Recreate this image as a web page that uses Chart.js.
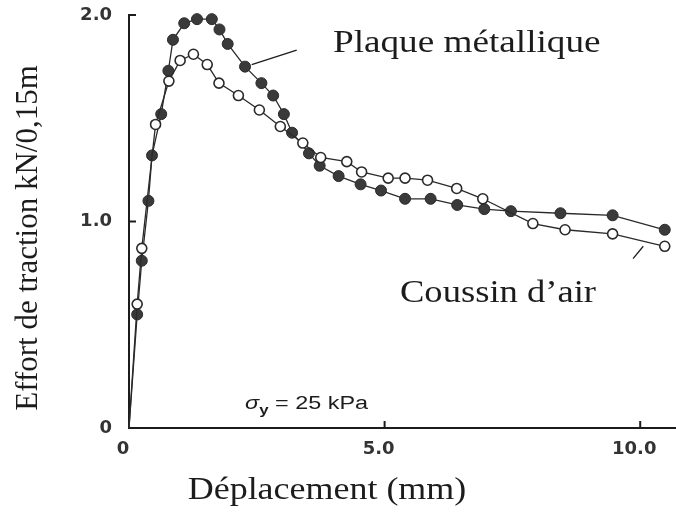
<!DOCTYPE html>
<html lang="fr">
<head>
  <meta charset="UTF-8">
  <title>Effort de traction</title>
  <script src="https://cdn.jsdelivr.net/npm/chart.js"></script>
  <style>
    html, body { margin: 0; padding: 0; background: #fff; }
    #wrap { width: 676px; height: 523px; }
  </style>
</head>
<body>
  <div id="wrap"><canvas id="myChart" width="676" height="523"></canvas></div>
  <script>
    // Plaque métallique (points pleins)
    const plaqueX = [0, 0.16, 0.25, 0.38, 0.45, 0.63, 0.77, 0.86, 1.08, 1.33, 1.62, 1.77, 1.93, 2.27, 2.59, 2.82, 3.03, 3.19, 3.52, 3.73, 4.10, 4.53, 4.93, 5.40, 5.90, 6.42, 6.95, 7.47, 8.44, 9.46, 10.48];
    const plaqueY = [0, 0.55, 0.81, 1.10, 1.32, 1.52, 1.73, 1.88, 1.96, 1.98, 1.98, 1.93, 1.86, 1.75, 1.67, 1.61, 1.52, 1.43, 1.33, 1.27, 1.22, 1.18, 1.15, 1.11, 1.11, 1.08, 1.06, 1.05, 1.04, 1.03, 0.96];

    // Coussin d'air (points vides)
    const coussinX = [0, 0.16, 0.25, 0.52, 0.78, 1.00, 1.26, 1.53, 1.76, 2.14, 2.55, 2.96, 3.40, 3.75, 4.26, 4.55, 5.07, 5.40, 5.84, 6.41, 6.92, 7.90, 8.53, 9.46, 10.48];
    const coussinY = [0, 0.60, 0.87, 1.47, 1.68, 1.78, 1.81, 1.76, 1.67, 1.61, 1.54, 1.46, 1.38, 1.31, 1.29, 1.24, 1.21, 1.21, 1.20, 1.16, 1.11, 0.99, 0.96, 0.94, 0.88];

    const xTicks = [0, 5, 10];
    const xTickLabels = ['0', '5.0', '10.0'];
    const yTicks = [0, 1, 2];
    const yTickLabels = ['0', '1.0', '2.0'];

    const toPoints = (xs, ys) => xs.map((x, i) => ({x: x, y: ys[i]}));

    const ink = '#1c1c1c';

    function stretchText(ctx, text, x, y, font, sx, align) {
      ctx.save();
      ctx.font = font;
      ctx.textBaseline = 'alphabetic';
      const w = ctx.measureText(text).width * sx;
      let left = x;
      if (align === 'center') left = x - w / 2;
      ctx.translate(left, y);
      ctx.scale(sx, 1);
      ctx.textAlign = 'left';
      ctx.fillText(text, 0, 0);
      ctx.restore();
      return w;
    }

    const decor = {
      id: 'decor',
      afterDraw(chart) {
        const ctx = chart.ctx;
        const xs = chart.scales.x;
        const ys = chart.scales.y;
        const area = chart.chartArea;
        ctx.save();
        ctx.strokeStyle = ink;
        ctx.fillStyle = ink;

        // petites graduations vers l'interieur
        ctx.lineWidth = 2;
        ctx.beginPath();
        xTicks.forEach(v => {
          if (v === 0) return;
          const px = xs.getPixelForValue(v);
          ctx.moveTo(px, area.bottom);
          ctx.lineTo(px, area.bottom - 7);
        });
        yTicks.forEach(v => {
          if (v === 0) return;
          const py = ys.getPixelForValue(v);
          ctx.moveTo(area.left, py);
          ctx.lineTo(area.left + 7, py);
        });
        ctx.stroke();

        // traits de rappel
        ctx.lineWidth = 1.3;
        ctx.beginPath();
        ctx.moveTo(xs.getPixelForValue(2.40), ys.getPixelForValue(1.76));
        ctx.lineTo(xs.getPixelForValue(3.28), ys.getPixelForValue(1.83));
        ctx.moveTo(xs.getPixelForValue(10.06), ys.getPixelForValue(0.88));
        ctx.lineTo(xs.getPixelForValue(9.86), ys.getPixelForValue(0.82));
        ctx.stroke();

        // etiquettes des courbes
        const serif = '31px "Liberation Serif", "Times New Roman", serif';
        stretchText(ctx, 'Plaque métallique', xs.getPixelForValue(3.99), ys.getPixelForValue(1.82), serif, 1.2, 'left');
        stretchText(ctx, 'Coussin d\u2019air', xs.getPixelForValue(5.30), ys.getPixelForValue(0.61), serif, 1.18, 'left');

        // sigma_y = 25 kPa
        const sans = '"Liberation Sans", Arial, sans-serif';
        let sx = xs.getPixelForValue(2.27);
        const sy = ys.getPixelForValue(0.09);
        sx += stretchText(ctx, '\u03c3', sx, sy, 'italic 18px ' + sans, 1.3, 'left');
        sx += stretchText(ctx, 'y', sx, sy + 5, 'bold 13px ' + sans, 1.3, 'left');
        stretchText(ctx, ' = 25 kPa', sx, sy, '18px ' + sans, 1.3, 'left');

        // titres des axes
        stretchText(ctx, 'Déplacement (mm)', 327, 499, serif, 1.16, 'center');
        ctx.save();
        ctx.translate(37, 238);
        ctx.rotate(-Math.PI / 2);
        ctx.font = serif;
        ctx.textAlign = 'center';
        ctx.textBaseline = 'alphabetic';
        ctx.fillText('Effort de traction kN/0,15m', 0, 0);
        ctx.restore();

        ctx.restore();
      }
    };

    const ctx = document.getElementById('myChart');

    new Chart(ctx, {
      type: 'line',
      data: {
        datasets: [
          {
            label: 'Coussin d\u2019air',
            data: toPoints(coussinX, coussinY),
            borderColor: '#2a2a2a',
            borderWidth: 1.3,
            backgroundColor: '#ffffff',
            pointBorderColor: '#2a2a2a',
            pointBorderWidth: 1.6,
            pointRadius: c => c.dataIndex === 0 ? 0 : 5,
            tension: 0,
            order: 1
          },
          {
            label: 'Plaque métallique',
            data: toPoints(plaqueX, plaqueY),
            borderColor: '#2a2a2a',
            borderWidth: 1.3,
            backgroundColor: '#3a3a3a',
            pointBorderColor: '#2a2a2a',
            pointBorderWidth: 1,
            pointRadius: c => c.dataIndex === 0 ? 0 : 5.5,
            tension: 0,
            order: 2
          }
        ]
      },
      options: {
        responsive: false,
        animation: false,
        clip: false,
        layout: { autoPadding: false, padding: { top: 15, right: 0, left: 0, bottom: 0 } },
        plugins: {
          legend: { display: false },
          tooltip: { enabled: false }
        },
        scales: {
          x: {
            type: 'linear',
            min: 0,
            max: 10.7,
            afterBuildTicks: s => { s.ticks = xTicks.map(v => ({value: v})); },
            afterFit: s => { s.height = 95; s.paddingLeft = 0; s.paddingRight = 0; },
            grid: { display: false, drawTicks: false },
            border: { display: true, color: ink, width: 2 },
            ticks: {
              padding: 11,
              labelOffset: -6,
              color: '#333',
              font: { family: '"DejaVu Sans", sans-serif', size: 18, weight: 'bold' },
              callback: v => xTickLabels[xTicks.indexOf(v)]
            }
          },
          y: {
            type: 'linear',
            min: 0,
            max: 2,
            afterBuildTicks: s => { s.ticks = yTicks.map(v => ({value: v})); },
            afterFit: s => { s.width = 129; s.paddingTop = 0; s.paddingBottom = 0; },
            grid: { display: false, drawTicks: false },
            border: { display: true, color: ink, width: 2 },
            ticks: {
              padding: 17,
              color: '#333',
              font: { family: '"DejaVu Sans", sans-serif', size: 18, weight: 'bold' },
              callback: v => yTickLabels[yTicks.indexOf(v)]
            }
          }
        }
      },
      plugins: [decor]
    });
  </script>
</body>
</html>
